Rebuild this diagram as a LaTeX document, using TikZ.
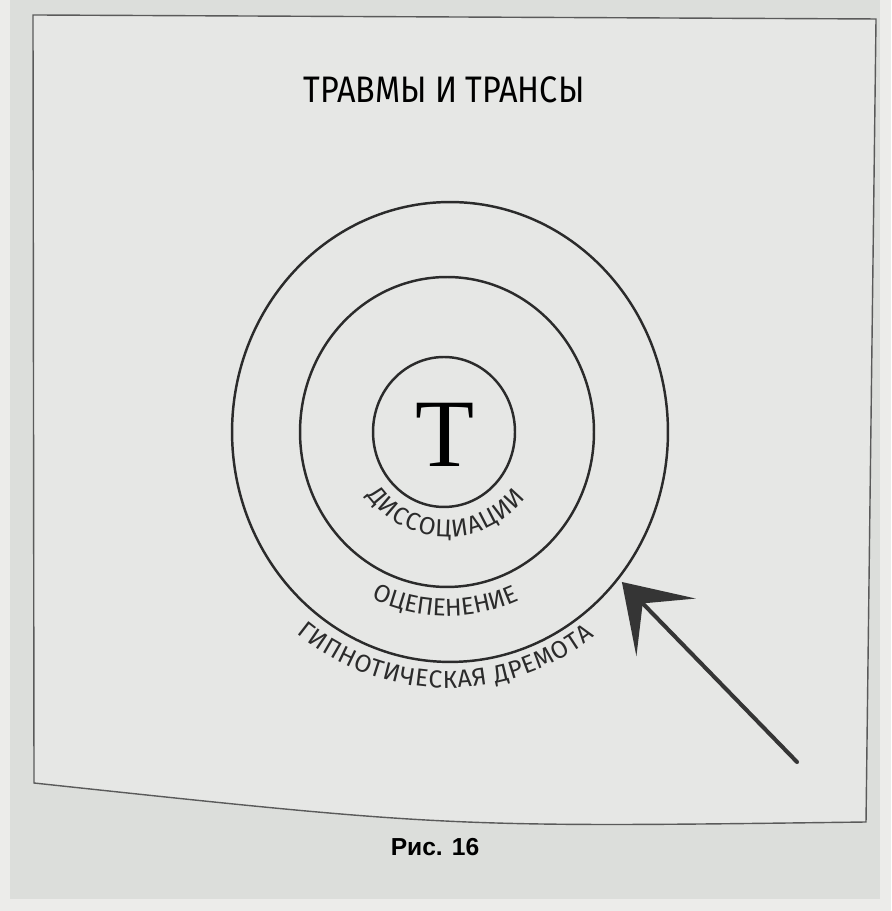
\documentclass[tikz,border=0pt]{standalone}
\usepackage{fontspec}
\setmainfont{Liberation Serif}
\newfontfamily\handfont{Fira Sans}
\newfontfamily\capfont{Liberation Sans}
\usetikzlibrary{arrows.meta,shapes.geometric,decorations.text}
\definecolor{pagebg}{HTML}{DCDEDB}
\definecolor{boxbg}{HTML}{E6E7E5}
\definecolor{edgebg}{HTML}{ECECEA}
\definecolor{ink}{HTML}{2B2B2B}
\definecolor{frameink}{HTML}{5A5A5A}
\definecolor{arrowink}{HTML}{353535}
\tikzset{
  ring/.style={ellipse, draw=ink, line width=1.4pt, inner sep=0pt, outer sep=0pt},
  frame/.style={draw=frameink, line width=0.8pt},
  curvetext/.style={decorate, decoration={text along path, text align=fit to path, text color=ink}},
  pointer/.style={draw=arrowink, line width=2.3pt, line cap=round, shorten >=3pt, -{Stealth[length=36pt, width=47pt, inset=19pt]}},
}
\begin{document}
\begin{tikzpicture}[x=0.02cm, y=0.02cm]
\useasboundingbox (0,0) rectangle (891,911);
\fill[edgebg] (0,0) rectangle (891,911);
\fill[pagebg] (10,12) -- (880,12) -- (880,911) -- (10,911) -- cycle;
% frame
\filldraw[frame, fill=boxbg] (33,896) -- (876,892) -- (866,89) .. controls (450,83.5) .. (34,128) -- cycle;
% title
\node (title) at (444,821) {\handfont\fontsize{21}{21}\selectfont\scalebox{0.875}[1]{ТРАВМЫ И ТРАНСЫ}};
% rings
\coordinate (ctr) at (447,479);
\node[ring, minimum width=8.72cm, minimum height=9.2cm] (outer) at (450,479) {};
\node[ring, minimum width=5.88cm, minimum height=6.2cm] (middle) at (ctr) {};
\node[ring, minimum width=2.84cm, minimum height=3.0cm] (inner) at (444,479) {};
\node (T) at (445,476) {\fontsize{55}{55}\selectfont Т};
% curved labels
\path[curvetext, decoration={text={|\handfont\fontsize{14}{14}\selectfont|ДИССОЦИАЦИИ}}]
  (ctr) ++(217:101 and 105) arc[start angle=217, end angle=321, x radius=101, y radius=105];
\path[curvetext, decoration={text={|\handfont\fontsize{14}{14}\selectfont|ОЦЕПЕНЕНИЕ}}]
  (ctr) ++(245:178 and 184) arc[start angle=245, end angle=294, x radius=178, y radius=184];
\path[curvetext, decoration={text={|\handfont\fontsize{14}{14}\selectfont|ГИПНОТИЧЕСКАЯ ДРЕМОТА}}]
  (ctr) ++(232:245 and 256) arc[start angle=232, end angle=307, x radius=245, y radius=256];
% arrow
\coordinate (tail) at (797,149);
\draw[pointer] (tail) -- (outer.-41);
% caption
\node (caption) at (435,64) {\capfont\bfseries\fontsize{14}{14}\selectfont Рис. 16};
\end{tikzpicture}
\end{document}
